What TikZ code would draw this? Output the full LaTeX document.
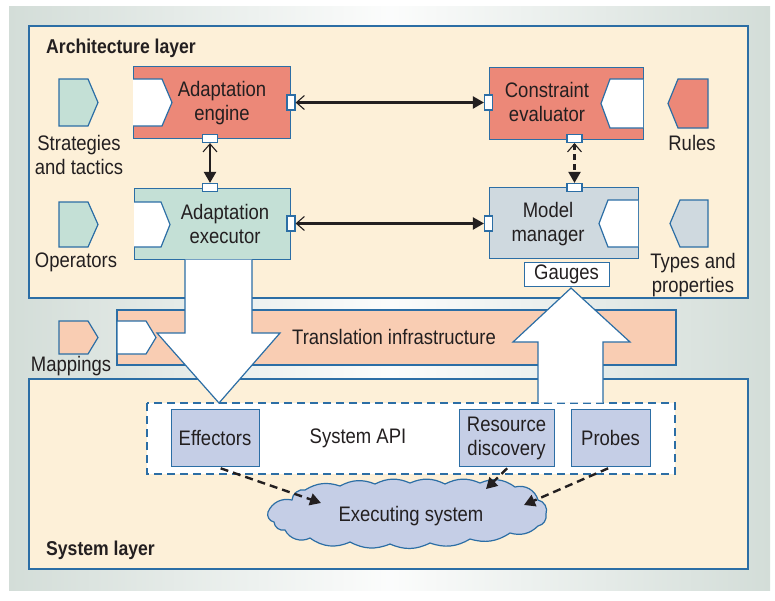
\documentclass[tikz,border=0pt]{standalone}
\usepackage{fontspec}
\setmainfont{Liberation Sans}[FakeStretch=0.88]
\usetikzlibrary{arrows.meta,calc}
\definecolor{bord}{RGB}{44,110,165}
\definecolor{cream}{RGB}{253,240,216}
\definecolor{salmon}{RGB}{236,136,120}
\definecolor{mint}{RGB}{196,224,214}
\definecolor{grayblue}{RGB}{207,217,223}
\definecolor{peach}{RGB}{249,205,179}
\definecolor{lav}{RGB}{197,206,230}
\definecolor{bggray}{RGB}{211,221,216}
\definecolor{txt}{RGB}{35,31,32}
\begin{document}
\begin{tikzpicture}[x=1pt,y=-1pt,
  every node/.style={text=txt,font=\fontsize{21}{24}\selectfont,align=center,inner sep=0pt},
  layer/.style={draw=bord,line width=1.3pt,fill=cream},
  comp/.style={draw=bord,line width=1.3pt,minimum width=#1,anchor=north west},
  port/.style={draw=bord,line width=1.2pt,fill=white,minimum width=#1},
  hport/.style={port=8pt,minimum height=15pt},
  vport/.style={port=15pt,minimum height=8pt},
  pent/.style={draw=bord,line width=1.2pt},
  conn/.style={line width=2.2pt,draw=txt,{Straight Barb[length=8pt,width=14pt,line width=1.1pt]}-{Triangle[length=11pt,width=12pt]}},
  dconn/.style={line width=2.4pt,draw=txt,dash pattern=on 8pt off 5pt,-{Triangle[length=11pt,width=12pt]}},
  bigarrow/.style={draw=bord,line width=1.2pt,fill=white},
  sysbox/.style={draw=bord,line width=1.3pt,fill=lav,minimum width=#1,minimum height=57pt,anchor=north west},
  ttl/.style={font=\fontsize{20}{24}\selectfont\bfseries,anchor=base west},
  puff/.style={bend left=#1}
]
\useasboundingbox (0,0) rectangle (775,600);
% background
\shade[left color=bggray,right color=bggray,middle color=white!92!bggray] (9,6) rectangle (770,590);
% layers
\draw[layer] (29,26) rectangle (748,298);
\draw[layer] (29,379) rectangle (748,569);
\draw[draw=bord,line width=1.3pt,fill=peach] (117,310) rectangle (676,365);
\node[ttl] (archt) at (46,53) {Architecture layer};
\node[ttl] (syst) at (46,555) {System layer};

% components
\node[comp=157pt,minimum height=72pt,fill=salmon] (eng) at (133,66) {};
\node[comp=154pt,minimum height=72pt,fill=salmon] (ceval) at (489,67) {};
\node[comp=156pt,minimum height=71pt,fill=mint] (exec) at (134,188) {};
\node[comp=149pt,minimum height=71pt,fill=grayblue] (mm) at (489,187) {};
\node[draw=bord,line width=1.2pt,fill=white,minimum width=85pt,minimum height=24pt,anchor=north west] (gauges) at (524,262) {};
\node (gaugest) at (566.5,274.5) {Gauges};

% white inner pentagons
\fill[white] (133,79) -- (162,79) -- (172,102.5) -- (162,126) -- (133,126) -- cycle;
\draw[pent] (133,79) -- (162,79) -- (172,102.5) -- (162,126) -- (133,126);
\fill[white] (134,202) -- (161,202) -- (170,224.5) -- (161,247) -- (134,247) -- cycle;
\draw[pent] (134,202) -- (161,202) -- (170,224.5) -- (161,247) -- (134,247);
\fill[white] (643,79) -- (610,79) -- (601,103.5) -- (610,128) -- (643,128) -- cycle;
\draw[pent] (643,79) -- (610,79) -- (601,103.5) -- (610,128) -- (643,128);
\fill[white] (638,200) -- (608,200) -- (599,223.5) -- (608,247) -- (638,247) -- cycle;
\draw[pent] (638,200) -- (608,200) -- (599,223.5) -- (608,247) -- (638,247);
\draw[pent,fill=white] (117,321) -- (146,321) -- (156,337.5) -- (146,354) -- (117,354) -- cycle;

% outer pentagons
\draw[pent,fill=mint] (59,79) -- (88,79) -- (98,102.5) -- (88,126) -- (59,126) -- cycle;
\draw[pent,fill=mint] (59,202) -- (88,202) -- (98,224.5) -- (88,247) -- (59,247) -- cycle;
\draw[pent,fill=peach] (59,321) -- (88,321) -- (98,337.5) -- (88,354) -- (59,354) -- cycle;
\draw[pent,fill=salmon] (708,79) -- (678,79) -- (668,103.5) -- (678,128) -- (708,128) -- cycle;
\draw[pent,fill=grayblue] (708,200) -- (680,200) -- (670,223.5) -- (680,247) -- (708,247) -- cycle;

% texts
\node (engt) at (222,103) {Adaptation\\engine};
\node (cevalt) at (547,102) {Constraint\\evaluator};
\node (exect) at (225,224) {Adaptation\\executor};
\node (mmt) at (548,224) {Model\\manager};
\node (strat) at (79,155) {Strategies\\and tactics};
\node (opst) at (76,262) {Operators};
\node (mapt) at (71,366) {Mappings};
\node (rulest) at (692,143) {Rules};
\node (typest) at (693,275.5) {Types and\\properties};
\node (transt) at (394,337) {Translation infrastructure};

% ports
\node[hport] (engR) at (291,102.5) {};
\node[hport] (cevL) at (488.5,102.5) {};
\node[vport] (engB) at (210,138.5) {};
\node[vport] (exeT) at (210,187.5) {};
\node[hport] (exeR) at (291,223.5) {};
\node[hport] (mmL) at (488.5,223.5) {};
\node[vport] (cevB) at (574.5,138.5) {};
\node[vport] (mmT) at (574.5,187.5) {};

% connectors
\draw[conn] (engR.east) -- (cevL.west);
\draw[conn] (exeR.east) -- (mmL.west);
\draw[conn] (engB.south) -- (exeT.north);
\draw[conn,dash pattern=on 6pt off 4pt] (cevB.south) -- (mmT.north);

% system API
\draw[draw=bord,line width=1.3pt,dash pattern=on 8pt off 5pt,fill=white] (147,403) rectangle (675,474);
\node[sysbox=88pt] (eff) at (171,409) {};
\node (efft) at (215,438) {Effectors};
\node[sysbox=95pt] (res) at (459,409) {};
\node (rest) at (506.5,438) {Resource\\discovery};
\node[sysbox=79pt] (prb) at (571,409) {};
\node (prbt) at (610.5,438) {Probes};
\node (apit) at (358,438) {System API};

% cloud
\draw[draw=bord,line width=1.2pt,fill=lav]
  (268,512) to[puff=40] (292,500) to[puff=50] (305,490)
  to[puff=25] (340,486) to[puff=25] (375,484) to[puff=25] (410,483)
  to[puff=25] (445,484) to[puff=25] (480,483) to[puff=30] (515,487)
  to[puff=45] (538,500) to[puff=50] (546,514) to[puff=45] (538,526)
  to[puff=30] (510,533) to[puff=25] (470,539) to[puff=25] (430,543)
  to[puff=25] (390,544) to[puff=25] (350,542) to[puff=30] (310,538)
  to[puff=45] (285,530) to[puff=50] (274,522) to[puff=50] cycle;
\node (cloud) at (408,515) {};
\node (cloudt) at (411,516) {Executing system};
\coordinate (cE) at (321,503);
\coordinate (cR) at (486,489);
\coordinate (cP) at (524,505);
\draw[dconn] ($(eff.south)+(5,1)$) -- (cE);
\draw[dconn] ($(res.south)+(0,1)$) -- (cR);
\draw[dconn] ($(prb.south)+(-3,1)$) -- (cP);

% big arrows
\draw[bigarrow] (185,259.5) -- (185,333) -- (157,333) -- (219,403) -- (280,333) -- (252,333) -- (252,259.5);
\fill[white] (538,402.5) -- (538,342) -- (513,342) -- (571,288) -- (630,342) -- (603,342) -- (603,402.5) -- cycle;
\draw[bigarrow,fill=none] (538,402.5) -- (538,342) -- (513,342) -- (571,288) -- (630,342) -- (603,342) -- (603,402.5);
\end{tikzpicture}
\end{document}
